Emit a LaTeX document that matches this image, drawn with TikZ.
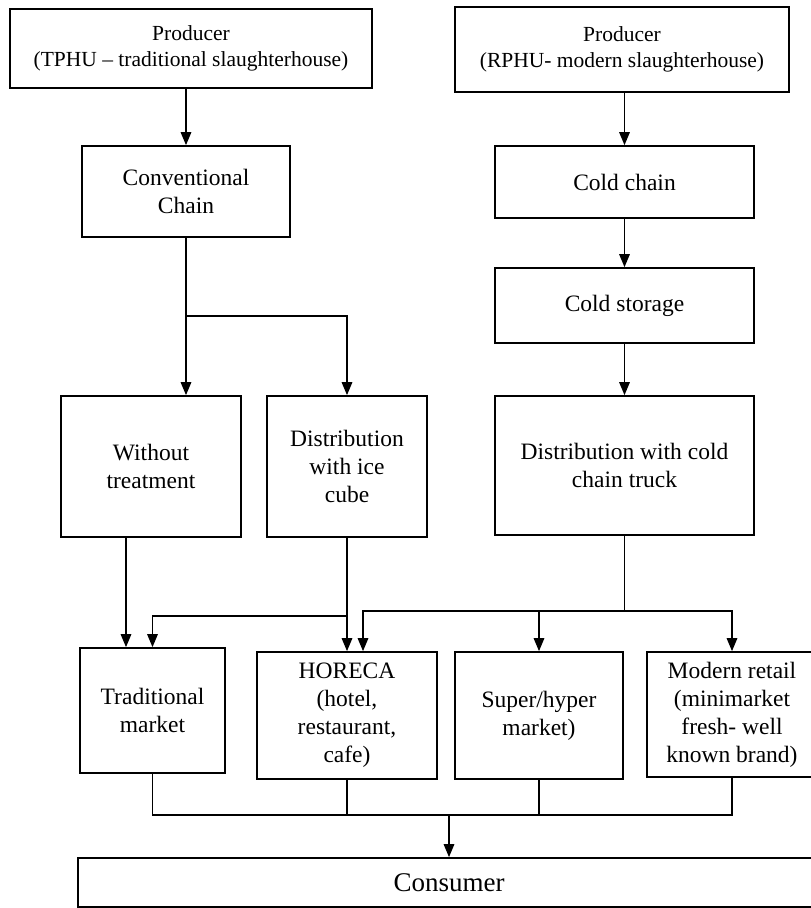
\documentclass[tikz,border=0pt]{standalone}
\usepackage{fontspec}
\setmainfont{Liberation Serif}
\usetikzlibrary{arrows.meta}
\begin{document}
\begin{tikzpicture}[x=1pt,y=-1pt,
	b/.style={draw,line width=1.7pt,inner sep=0pt,align=center,font=\fontsize{23.5}{28}\selectfont},
	p/.style={b,font=\fontsize{21.5}{26}\selectfont},
	a/.style={line width=1.5pt,-{Triangle[length=13pt,width=10.5pt]}},
	j/.style={line width=1.5pt}]
	\useasboundingbox (0,0) rectangle (811,908);
	% sources
	\node[p,minimum width=362pt,minimum height=79pt] (tphu) at (191,48.5) {Producer\\(TPHU -- traditional slaughterhouse)};
	\node[p,minimum width=334pt,minimum height=85pt] (rphu) at (622,49.5) {Producer\\(RPHU- modern slaughterhouse)};
	% chains
	\node[b,minimum width=208pt,minimum height=91pt] (conv) at (186,191.5) {Conventional\\Chain};
	\node[b,minimum width=259pt,minimum height=72pt] (cold) at (624.5,182) {Cold chain};
	\node[b,minimum width=259pt,minimum height=75pt] (storage) at (624.5,305.5) {Cold storage};
	% distribution
	\node[b,minimum width=180pt,minimum height=141pt] (without) at (151,466.5) {Without\\treatment};
	\node[b,minimum width=160pt,minimum height=141pt] (ice) at (347,466.5) {Distribution\\with ice\\cube};
	\node[b,minimum width=259pt,minimum height=139pt] (truck) at (624.5,465.5) {Distribution with cold\\chain truck};
	% outlets
	\node[b,minimum width=145pt,minimum height=125pt] (trad) at (152.5,710.5) {Traditional\\market};
	\node[b,minimum width=180pt,minimum height=127pt] (horeca) at (347,715.5) {HORECA\\(hotel,\\restaurant,\\cafe)};
	\node[b,minimum width=168pt,minimum height=127pt] (super) at (539,715.5) {Super/hyper\\market)};
	\node[b,minimum width=170pt,minimum height=125pt] (modern) at (732,714.5) {Modern retail\\(minimarket\\fresh- well\\known brand)};
	\node[b,font=\fontsize{27}{30}\selectfont,minimum width=742pt,minimum height=49pt] (consumer) at (449,882.5) {Consumer};
	% junctions
	\coordinate (split) at (186,316);
	\coordinate (icej) at (347,616);
	\coordinate (truckj) at (624.5,611);
	\coordinate (merge) at (449,815);
	% arrows
	\draw[a] (tphu.south -| conv.north) -- (conv.north);
	\draw[a] (rphu.south -| cold.north) -- (cold.north);
	\draw[a] (cold) -- (storage);
	\draw[a] (storage) -- (truck);
	\draw[a] (conv.south) -- (conv.south |- without.north);
	\draw[a] (split) -| (ice.north);
	\draw[a] ([xshift=-25pt]without.south) -- ([xshift=-25pt]without.south |- trad.north);
	\draw[a] (ice.south) -- (horeca.north);
	\draw[a] (icej) -| (trad.north);
	\draw[j] (truck.south) -- (truckj);
	\draw[a] (truckj) -| ([xshift=16pt]horeca.north);
	\draw[a] (truckj) -| (super.north);
	\draw[a] (truckj) -| (modern.north);
	\draw[j] (trad.south) |- (merge);
	\draw[j] (horeca.south) -- (horeca.south |- merge);
	\draw[j] (super.south) -- (super.south |- merge);
	\draw[j] (modern.south) |- (merge);
	\draw[a] (merge) -- (consumer.north);
\end{tikzpicture}
\end{document}
